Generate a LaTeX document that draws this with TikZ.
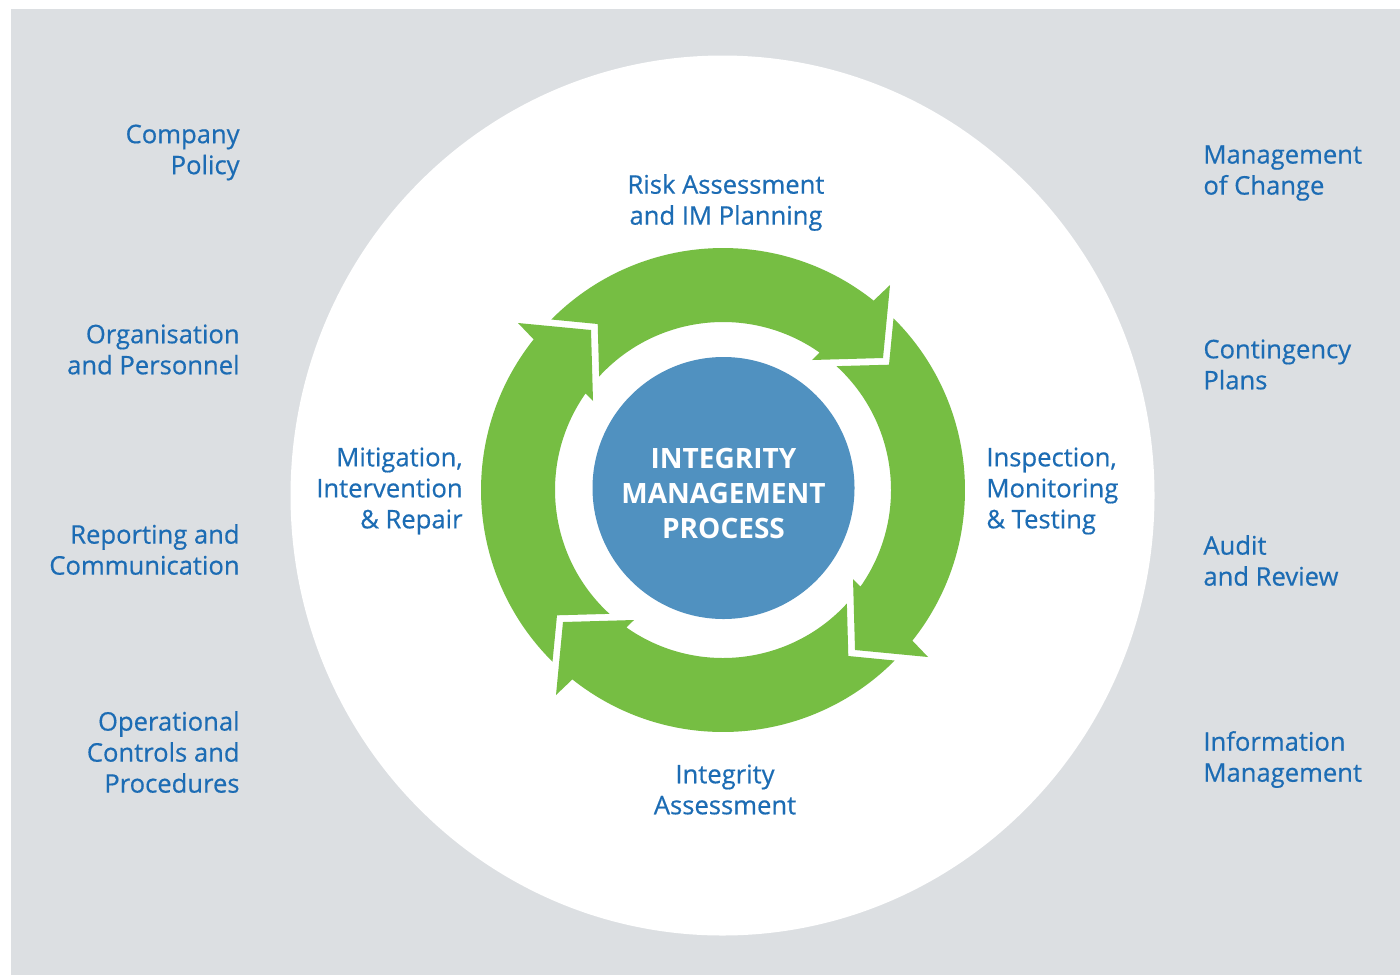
\documentclass[tikz,border=0pt]{standalone}
\usepackage{fontspec}
\setmainfont{Open Sans}
\newfontfamily\lblfont{Open Sans}[FakeBold=0.5]
\definecolor{bggray}{RGB}{220,223,226}
\definecolor{ringgreen}{RGB}{118,190,67}
\definecolor{hubblue}{RGB}{80,145,192}
\definecolor{txtblue}{RGB}{28,108,180}
\tikzset{
  lbl/.style={text=txtblue, font=\lblfont\fontsize{12.8}{15.5}\selectfont, inner sep=0pt},
  lblL/.style={lbl, anchor=east, align=right},
  lblR/.style={lbl, anchor=west, align=left},
  lblC/.style={lbl, align=center},
  cyclearrow/.style={fill=ringgreen},
}
\begin{document}
\begin{tikzpicture}[x=0.5pt,y=0.5pt]
\useasboundingbox (0,0) rectangle (1400,-975);
\fill[bggray] (11,-9) rectangle (1400,-975);
\fill[white] (722.5,-495.5) ellipse [x radius=432, y radius=440];
% cycle arrows
\begin{scope}[shift={(723,-490)}]
  \foreach \r in {0,-90,-180,-270}{
    \begin{scope}[rotate=\r]
      \fill[cyclearrow] (135.2:242) arc[start angle=135.2, end angle=51.5, radius=242]
        -- (167,205) -- (160,132) -- (89,130) -- (54.9:168)
        arc[start angle=54.9, end angle=137.5, radius=168] -- (-125.3,166) -- cycle;
    \end{scope}
  }
\end{scope}
% hub
\node[circle, fill=hubblue, minimum size=131pt, inner sep=0pt, text=white,
      font=\bfseries\fontsize{14}{17.5}\selectfont, align=center]
  (hub) at (723.5,-488) {};
\node[text=white, font=\bfseries\fontsize{14}{17.5}\selectfont, align=center, inner sep=0pt]
  (hubtext) at (723.5,-493) {INTEGRITY\\MANAGEMENT\\PROCESS};
% process labels
\node[lblC] (risk) at (726,-202.5) {Risk Assessment\\and IM Planning};
\node[lblL] (mit) at (463,-491) {Mitigation,\\Intervention\\\& Repair};
\node[lblR] (insp) at (986,-491) {Inspection,\\Monitoring\\\& Testing};
\node[lblC] (integ) at (725,-789.5) {Integrity\\Assessment};
% left column
\node[lblL] (policy) at (240,-152.5) {Company\\Policy};
\node[lblL] (org) at (240,-349.5) {Organisation\\and Personnel};
\node[lblL] (report) at (240,-549.5) {Reporting and\\Communication};
\node[lblL] (ops) at (240,-752) {Operational\\Controls and\\Procedures};
% right column
\node[lblR] (moc) at (1203,-173) {Management\\of Change};
\node[lblR] (cont) at (1203,-364.5) {Contingency\\Plans};
\node[lblR] (audit) at (1203,-560.5) {Audit\\and Review};
\node[lblR] (info) at (1203,-759.5) {Information\\Management};
\end{tikzpicture}
\end{document}
